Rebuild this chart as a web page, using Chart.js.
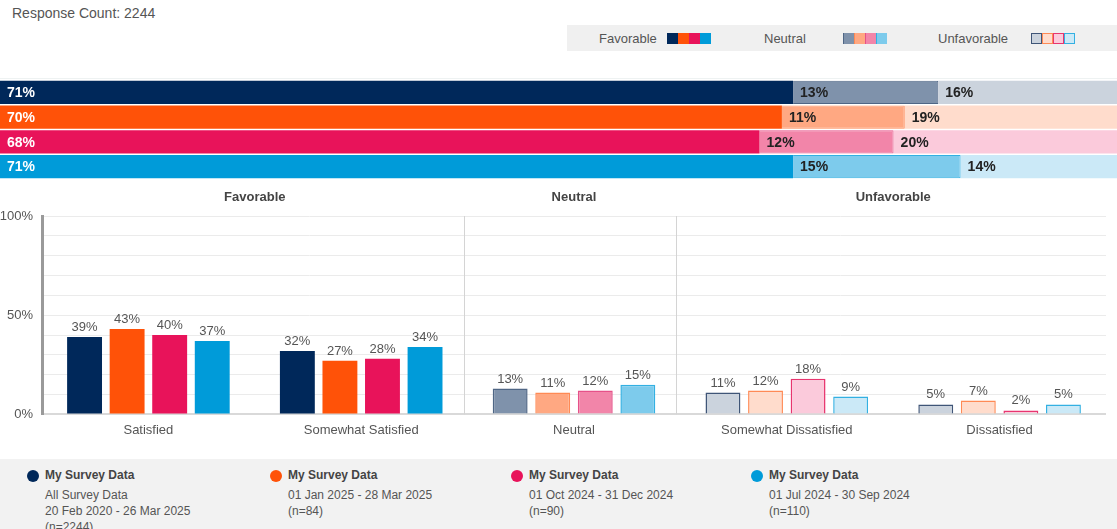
<!DOCTYPE html>
<html>
<head>
<meta charset="utf-8">
<script src="https://cdn.jsdelivr.net/npm/chart.js@4.4.1/dist/chart.umd.min.js"></script>
<style>
  body { margin: 0; width: 1117px; height: 529px; overflow: hidden; background: #fff;
         font-family: "Liberation Sans", Arial, sans-serif; position: relative; }
  #count { position: absolute; left: 12px; top: 5px; font-size: 14px; color: #555; }
  #topLegend { position: absolute; left: 567px; top: 25px; width: 550px; height: 26px; background: #f0f0f0;
               font-size: 13px; color: #555; }
  #topLegend .lbl { position: absolute; top: 6px; }
  #topLegend .sw { position: absolute; top: 8px; height: 11px; display: flex; }
  #topLegend .sw span { width: 11px; height: 11px; margin-right: 0; box-sizing: border-box; }
  #topLine { position: absolute; left: 0; top: 78px; width: 1117px; height: 1px; background: #eef2f2; }
  #stack { position: absolute; left: 0; top: 80px; }
  #bars { position: absolute; left: 0; top: 180px; }
  #bottom { position: absolute; left: 0; top: 459px; width: 1117px; height: 70px; background: #f2f2f2; }
  .col { position: absolute; top: 8px; font-size: 12px; color: #555; line-height: 16px; }
  .col .dot { position: absolute; left: -18px; top: 3px; width: 12px; height: 12px; border-radius: 50%; }
  .col .ttl { font-weight: bold; color: #444; margin-bottom: 4px; }
</style>
</head>
<body>
<div id="count">Response Count: 2244</div>
<div id="topLegend"></div>
<div id="topLine"></div>
<canvas id="stack" width="1117" height="99"></canvas>
<canvas id="bars" width="1117" height="270"></canvas>
<div id="bottom"></div>
<script>
// ---- data ----
const categories = ["Satisfied", "Somewhat Satisfied", "Neutral", "Somewhat Dissatisfied", "Dissatisfied"];
const groupNames = ["Favorable", "Neutral", "Unfavorable"];
const groupSpans = [[0, 1], [2, 2], [3, 4]];

const allSurvey = [39, 32, 13, 11, 5];
const janMar2025 = [43, 27, 11, 12, 7];
const octDec2024 = [40, 28, 12, 18, 2];
const julSep2024 = [37, 34, 15, 9, 5];

const favorable = [71, 70, 68, 71];
const neutral = [13, 11, 12, 15];
const unfavorable = [16, 19, 20, 14];

const seriesTitle = "My Survey Data";
const seriesLines = [
  ["All Survey Data", "20 Feb 2020 - 26 Mar 2025", "(n=2244)"],
  ["01 Jan 2025 - 28 Mar 2025", "(n=84)"],
  ["01 Oct 2024 - 31 Dec 2024", "(n=90)"],
  ["01 Jul 2024 - 30 Sep 2024", "(n=110)"]
];
const yTickLabels = [0, 50, 100];

// ---- colours ----
const solid = ["#00285a", "#ff5208", "#e8135a", "#009bd9"];
const mid = ["#7f92ab", "#ffa882", "#f285a9", "#7dcbec"];
const midBorder = ["#4f6685", "#ff8a55", "#e65189", "#33b0e2"];
const light = ["#cbd3dd", "#ffdccc", "#fbcadb", "#cbe9f7"];
const lightBorder = ["#3f5577", "#ff8a55", "#e8356f", "#33b0e2"];

// ---- top legend ----
const tl = document.getElementById("topLegend");
const legendPos = [[32, 100, solid, solid], [197, 276, mid, midBorder], [371, 464, light, lightBorder]];
groupNames.forEach((g, i) => {
  const l = document.createElement("div");
  l.className = "lbl"; l.textContent = g; l.style.left = legendPos[i][0] + "px";
  tl.appendChild(l);
  const sw = document.createElement("div");
  sw.className = "sw"; sw.style.left = legendPos[i][1] + "px";
  legendPos[i][2].forEach((c, k) => {
    const s = document.createElement("span");
    s.style.background = c;
    if (i === 1) s.style.borderLeft = "1px solid " + legendPos[i][3][k];
    if (i === 2) s.style.border = "1px solid " + legendPos[i][3][k];
    sw.appendChild(s);
  });
  tl.appendChild(sw);
});

// ---- bottom legend ----
const bottom = document.getElementById("bottom");
const colX = [45, 288, 529, 769];
seriesLines.forEach((lines, i) => {
  const c = document.createElement("div");
  c.className = "col"; c.style.left = colX[i] + "px";
  c.innerHTML = '<div class="dot" style="background:' + solid[i] + '"></div><div class="ttl">' + seriesTitle + '</div>' +
    lines.map(t => "<div>" + t + "</div>").join("");
  bottom.appendChild(c);
});

// ---- stacked summary bars ----
const stackLabels = {
  id: "stackLabels",
  afterDatasetsDraw(chart) {
    const ctx = chart.ctx;
    ctx.save();
    ctx.font = "bold 14px 'Liberation Sans', Arial, sans-serif";
    ctx.textBaseline = "middle";
    ctx.textAlign = "left";
    chart.data.datasets.forEach((ds, di) => {
      chart.getDatasetMeta(di).data.forEach((el, i) => {
        ctx.fillStyle = di === 0 ? "#ffffff" : "#222222";
        ctx.fillText(ds.data[i] + "%", el.base + 7, el.y + 1);
      });
    });
    ctx.restore();
  }
};

new Chart(document.getElementById("stack"), {
  type: "bar",
  data: {
    labels: ["1", "2", "3", "4"],
    datasets: [
      { label: "Favorable", data: favorable, backgroundColor: solid, borderColor: solid, borderWidth: 0 },
      { label: "Neutral", data: neutral, backgroundColor: mid, borderColor: midBorder, borderWidth: 1 },
      { label: "Unfavorable", data: unfavorable, backgroundColor: light, borderColor: lightBorder,
        borderWidth: { left: 1, top: 0, bottom: 0, right: 0 } }
    ]
  },
  options: {
    indexAxis: "y",
    responsive: false,
    animation: false,
    layout: { padding: 0 },
    datasets: { bar: { barPercentage: 0.93, categoryPercentage: 1 } },
    scales: {
      x: { stacked: true, min: 0, max: 100, display: false },
      y: { stacked: true, display: false }
    },
    plugins: { legend: { display: false }, tooltip: { enabled: false } }
  },
  plugins: [stackLabels]
});

// ---- grouped bar chart ----
const barDecor = {
  id: "barDecor",
  beforeDatasetsDraw(chart) {
    const { ctx, chartArea, scales } = chart;
    ctx.save();
    ctx.strokeStyle = "#d4d4d4";
    ctx.lineWidth = 1;
    for (let g = 0; g < groupSpans.length - 1; g++) {
      const a = groupSpans[g][1];
      const x = Math.round((scales.x.getPixelForValue(a) + scales.x.getPixelForValue(a + 1)) / 2) - 3.5;
      ctx.beginPath();
      ctx.moveTo(x, chartArea.top);
      ctx.lineTo(x, chartArea.bottom);
      ctx.stroke();
    }
    ctx.restore();
  },
  afterDatasetsDraw(chart) {
    const { ctx, chartArea, scales } = chart;
    ctx.save();
    ctx.textAlign = "center";
    ctx.textBaseline = "middle";
    ctx.font = "bold 13px 'Liberation Sans', Arial, sans-serif";
    ctx.fillStyle = "#444";
    groupNames.forEach((g, i) => {
      const x = (scales.x.getPixelForValue(groupSpans[i][0]) + scales.x.getPixelForValue(groupSpans[i][1])) / 2;
      ctx.fillText(g, x, chartArea.top - 19);
    });
    ctx.font = "13px 'Liberation Sans', Arial, sans-serif";
    ctx.fillStyle = "#555";
    ctx.textBaseline = "alphabetic";
    chart.data.datasets.forEach((ds, di) => {
      chart.getDatasetMeta(di).data.forEach((el, i) => {
        ctx.fillText(ds.data[i] + "%", el.x, el.y - 6);
      });
    });
    ctx.restore();
  }
};

const catFill = i => [solid[i], solid[i], mid[i], light[i], light[i]];
const catBorder = i => [solid[i], solid[i], midBorder[i], lightBorder[i], lightBorder[i]];
const seriesData = [allSurvey, janMar2025, octDec2024, julSep2024];

new Chart(document.getElementById("bars"), {
  type: "bar",
  data: {
    labels: categories,
    datasets: seriesData.map((d, i) => ({
      label: seriesTitle,
      data: d,
      backgroundColor: catFill(i),
      borderColor: catBorder(i),
      borderWidth: [0, 0, 1.5, 1.5, 1.5]
    }))
  },
  options: {
    responsive: false,
    animation: false,
    layout: { padding: { top: 36, right: 11, bottom: 4, left: 0 } },
    datasets: { bar: { categoryPercentage: 0.8, barPercentage: 0.82 } },
    scales: {
      x: {
        grid: { display: false, drawTicks: false },
        border: { display: false },
        ticks: { color: "#555", font: { size: 13, family: "'Liberation Sans', Arial, sans-serif" }, padding: 8 }
      },
      y: {
        min: 0, max: 100,
        afterFit(scale) { scale.width = 42; },
        border: { display: true, color: "#9a9a9a", width: 3 },
        grid: {
          drawTicks: false,
          color: c => c.tick && c.tick.value === 0 ? "#d9d9d9" : "#ebebeb",
          lineWidth: c => c.tick && c.tick.value === 0 ? 2 : 1
        },
        ticks: {
          stepSize: 10, padding: 9, color: "#555",
          font: { size: 13, family: "'Liberation Sans', Arial, sans-serif" },
          callback: v => yTickLabels.includes(v) ? v + "%" : ""
        }
      }
    },
    plugins: { legend: { display: false }, tooltip: { enabled: false } }
  },
  plugins: [barDecor]
});
</script>
</body>
</html>
